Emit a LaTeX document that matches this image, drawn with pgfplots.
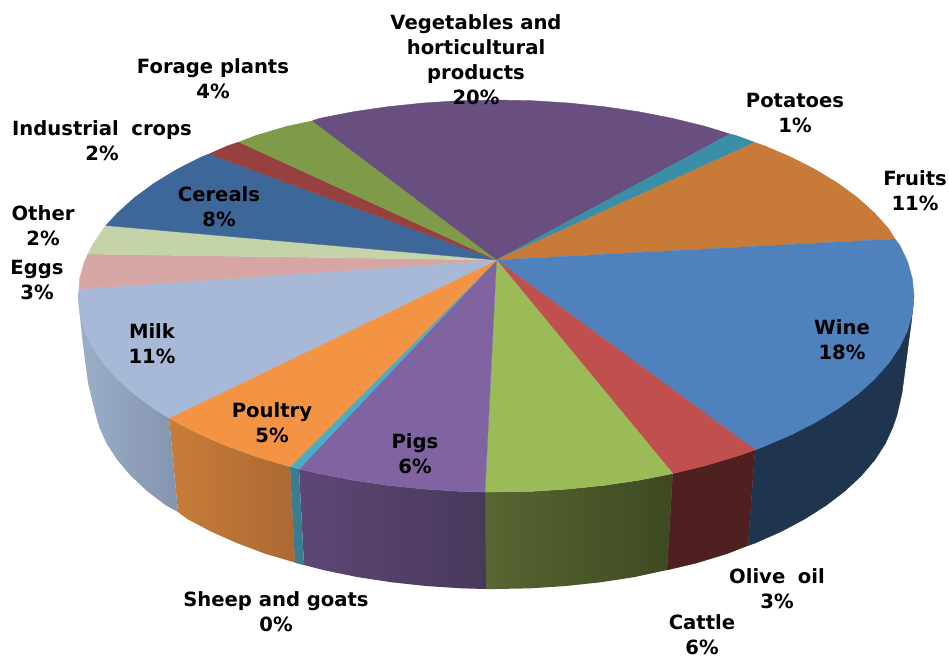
\documentclass[border=0pt]{standalone}
\usepackage{fontspec}
\setmainfont{DejaVu Sans}
\usepackage{pgfplots}
\pgfplotsset{compat=1.18}

% top faces
\definecolor{cWine}{HTML}{4F81BD}
\definecolor{cOlive}{HTML}{C0504D}
\definecolor{cCattle}{HTML}{9BBB59}
\definecolor{cPigs}{HTML}{8064A2}
\definecolor{cSheep}{HTML}{4BACC6}
\definecolor{cPoultry}{HTML}{F39445}
\definecolor{cMilk}{HTML}{A8B8D7}
\definecolor{cEggs}{HTML}{D6A6A5}
\definecolor{cOther}{HTML}{C4D4A8}
\definecolor{cCereals}{HTML}{3E6799}
\definecolor{cInd}{HTML}{964040}
\definecolor{cForage}{HTML}{7F9A48}
\definecolor{cVeg}{HTML}{684F80}
\definecolor{cPot}{HTML}{3A8EA5}
\definecolor{cFruit}{HTML}{C87B38}
% side walls
\definecolor{sWine}{HTML}{1F344E}
\definecolor{sOlive}{HTML}{4E201F}
\definecolor{sCattleL}{HTML}{576632}
\definecolor{sCattleR}{HTML}{3E4922}
\definecolor{sPigsL}{HTML}{5E4674}
\definecolor{sPigsR}{HTML}{48395C}
\definecolor{sSheep}{HTML}{3A7D92}
\definecolor{sPoultryL}{HTML}{C87C38}
\definecolor{sPoultryR}{HTML}{AC6934}
\definecolor{sMilkL}{HTML}{9DAEC8}
\definecolor{sMilkR}{HTML}{8494AE}

\tikzset{
  slice/.style={fill=#1, draw=#1, line width=0.3pt, line join=round},
  lbl/.style={font=\fontsize{14.7}{18.7}\selectfont\bfseries, align=center, text=black, inner sep=0pt},
}

\begin{document}
\begin{tikzpicture}
\useasboundingbox (0,0) rectangle (711.75pt,493.5pt);
\begin{axis}[
    at={(0,0)}, anchor=south west,
    scale only axis,
    width=711.75pt, height=493.5pt,
    xmin=0, xmax=949, ymin=0, ymax=658,
    y dir=reverse,
    hide axis,
    no markers,
]
% side walls
\addplot[slice=sWine] coordinates {(914,296)(912.4,313.1)(907.7,330)(899.8,346.7)(888.8,363)(874.8,378.8)(858,394)(838.4,408.4)(816.2,422)(791.6,434.6)(764.7,446.1)(755,450)(748,545.5)(755,543.1)(781,531.6)(804.7,519)(826.1,505.4)(845,491)(861.2,475.8)(874.7,460)(885.3,443.7)(892.9,427)(897,415)(902,393)(908,347)(912,317)};
\addplot[slice=sOlive] coordinates {(755,450)(735.8,456.6)(705,465.7)(672.7,473.6)(667,570)(697.5,562.7)(727.2,553.6)(748,545.5)};
\addplot[draw=none, left color=sCattleL, right color=sCattleR] coordinates {(672.7,473.6)(639,480.2)(604.2,485.3)(568.6,489)(532.4,491.3)(496,492)(485,492)(486,589)(496,589)(531.1,588.3)(566,586)(600.3,582.3)(633.8,577.2)(667,570)};
\addplot[draw=none, left color=sPigsL, right color=sPigsR] coordinates {(485,492)(459.6,491.3)(423.4,489)(387.8,485.3)(353,480.2)(319.3,473.6)(299,469)(304,565)(325.7,570.6)(358.2,577.2)(391.7,582.3)(426,586)(460.9,588.3)(486,589)};
\addplot[slice=sSheep] coordinates {(299,469)(290,466.5)(295,562.5)(304,565)};
\addplot[draw=none, left color=sPoultryL, right color=sPoultryR] coordinates {(290,466.5)(287,465.7)(256.2,456.6)(227.3,446.1)(200.4,434.6)(175.8,422)(169,418)(178,512)(187.3,519)(211,531.6)(237,543.1)(264.8,553.6)(295,562.5)};
\addplot[draw=none, left color=sMilkL, right color=sMilkR] coordinates {(169,418)(153.6,408.4)(134,394)(117.2,378.8)(103.2,363)(92.2,346.7)(84.3,330)(79.6,313.1)(78,296)(80,317)(83,345)(88,383)(94.5,410)(99.1,427)(106.7,443.7)(117.3,460)(130.8,475.8)(147,491)(165.9,505.4)(178,512)};
% top faces, clockwise from the vegetables slice
\addplot[slice=cVeg] coordinates {(496.5,260)(312,121)(319.3,118.4)(353,111.8)(387.8,106.7)(423.4,103)(459.6,100.7)(496,100)(532.4,100.7)(568.6,103)(604.2,106.7)(639,111.8)(672.7,118.4)(705,126.3)(730,134)};
\addplot[slice=cPot] coordinates {(496.5,260)(730,134)(735.8,135.4)(755,142.5)};
\addplot[slice=cFruit] coordinates {(496.5,260)(755,142.5)(764.7,145.9)(791.6,157.4)(816.2,170)(838.4,183.6)(858,198)(874.8,213.2)(888.8,229)(895,239)};
\addplot[slice=cWine] coordinates {(496.5,260)(895,239)(899.8,245.3)(907.7,262)(912.4,278.9)(914,296)(912.4,313.1)(907.7,330)(899.8,346.7)(888.8,363)(874.8,378.8)(858,394)(838.4,408.4)(816.2,422)(791.6,434.6)(764.7,446.1)(755,450)};
\addplot[slice=cOlive] coordinates {(496.5,260)(755,450)(735.8,456.6)(705,465.7)(672.7,473.6)};
\addplot[slice=cCattle] coordinates {(496.5,260)(672.7,473.6)(639,480.2)(604.2,485.3)(568.6,489)(532.4,491.3)(496,492)(485,492)};
\addplot[slice=cPigs] coordinates {(496.5,260)(485,492)(459.6,491.3)(423.4,489)(387.8,485.3)(353,480.2)(319.3,473.6)(299,469)};
\addplot[slice=cSheep] coordinates {(496.5,260)(299,469)(290,466.5)};
\addplot[slice=cPoultry] coordinates {(496.5,260)(290,466.5)(287,465.7)(256.2,456.6)(227.3,446.1)(200.4,434.6)(175.8,422)(169,418)};
\addplot[slice=cMilk] coordinates {(496.5,260)(169,418)(153.6,408.4)(134,394)(117.2,378.8)(103.2,363)(92.2,346.7)(84.3,330)(79.6,313.1)(78,296)(79,289)};
\addplot[slice=cEggs] coordinates {(496.5,260)(79,289)(79.6,278.9)(84.3,262)(88,254)};
\addplot[slice=cOther] coordinates {(496.5,260)(88,254)(92.2,245.3)(103.2,229)(106,225.5)};
\addplot[slice=cCereals] coordinates {(496.5,260)(106,225.5)(117.2,213.2)(134,198)(153.6,183.6)(175.8,170)(200.4,157.4)(209,154)};
\addplot[slice=cInd] coordinates {(496.5,260)(209,154)(227.3,145.9)(239,142)};
\addplot[slice=cForage] coordinates {(496.5,260)(239,142)(256.2,135.4)(287,126.3)(312,121)};
% labels
\node[lbl] at (axis cs:476,60) {Vegetables and\\horticultural\\products\\20\%};
\node[lbl] at (axis cs:213,79) {Forage plants\\4\%};
\node[lbl] at (axis cs:795,113) {Potatoes\\1\%};
\node[lbl] at (axis cs:915,191) {Fruits\\11\%};
\node[lbl] at (axis cs:102,141) {Industrial\hspace{.3em} crops\\2\%};
\node[lbl] at (axis cs:219,207) {Cereals\\8\%};
\node[lbl] at (axis cs:43,226) {Other\\2\%};
\node[lbl] at (axis cs:37,280) {Eggs\\3\%};
\node[lbl] at (axis cs:152,344) {Milk\\11\%};
\node[lbl] at (axis cs:842,340) {Wine\\18\%};
\node[lbl] at (axis cs:272,423) {Poultry\\5\%};
\node[lbl] at (axis cs:415,454) {Pigs\\6\%};
\node[lbl] at (axis cs:276,612) {Sheep and goats\\0\%};
\node[lbl] at (axis cs:777,589) {Olive\hspace{.3em} oil\\3\%};
\node[lbl] at (axis cs:702,635) {Cattle\\6\%};
\end{axis}
\end{tikzpicture}
\end{document}
